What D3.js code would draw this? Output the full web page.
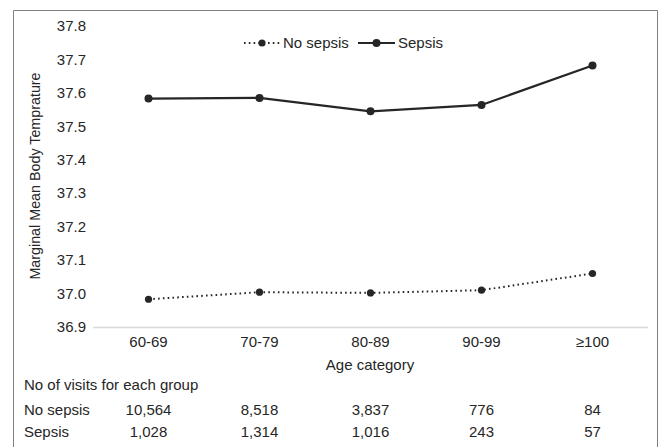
<!DOCTYPE html>
<html><head><meta charset="utf-8">
<script src="https://cdn.jsdelivr.net/npm/d3@7"></script>
<style>body{margin:0;background:#fff}svg{display:block;font-family:"Liberation Sans",Arial,sans-serif}</style>
</head><body><svg id="c" width="659" height="447"></svg>
<script>
const categories = ["60-69","70-79","80-89","90-99","≥100"];
const noSepsis = [36.983, 37.004, 37.002, 37.010, 37.060];
const sepsis = [37.583, 37.585, 37.545, 37.564, 37.682];
const yTicks = [36.9,37.0,37.1,37.2,37.3,37.4,37.5,37.6,37.7,37.8];
const countsNoSepsis = ["10,564","8,518","3,837","776","84"];
const countsSepsis = ["1,028","1,314","1,016","243","57"];

const svg = d3.select("#c");
const col = "#262626";
const fs = 15;
// frame
svg.append("path").attr("d","M13.5,447 V10.5 H657.5 V447").attr("fill","none").attr("stroke","#7f7f7f").attr("stroke-width",1);

const x = d3.scaleBand().domain(categories).range([93,648]);
const y = d3.scaleLinear().domain([36.9,37.8]).range([327,26]);
const cx = d => x(d) + x.bandwidth()/2;

// y tick labels
svg.append("g").selectAll("text").data(yTicks).join("text")
  .attr("x",86).attr("y",d=>y(d)).attr("dy","0.35em").attr("text-anchor","end")
  .attr("font-size",fs).attr("fill",col).text(d=>d.toFixed(1));
// x axis line
svg.append("line").attr("x1",93).attr("x2",648).attr("y1",y(36.9)+0.5).attr("y2",y(36.9)+0.5).attr("stroke","#d9d9d9").attr("stroke-width",1.5);
// x tick labels
svg.append("g").selectAll("text").data(categories).join("text")
  .attr("x",cx).attr("y",347).attr("text-anchor","middle").attr("font-size",fs).attr("fill",col).text(d=>d);
svg.append("text").attr("x",370).attr("y",370).attr("text-anchor","middle").attr("font-size",fs).attr("fill",col).text("Age category");
svg.append("text").attr("transform","translate(40,176) rotate(-90)").attr("text-anchor","middle").attr("font-size",14.3).attr("fill",col).text("Marginal Mean Body Temprature");

const line = d3.line().x((d,i)=>cx(categories[i])).y(d=>y(d));
svg.append("path").datum(sepsis).attr("d",line).attr("fill","none").attr("stroke",col).attr("stroke-width",2.2);
svg.append("path").datum(noSepsis).attr("d",line).attr("fill","none").attr("stroke",col).attr("stroke-width",2).attr("stroke-dasharray","1.6,3.2");
svg.append("g").selectAll("circle").data(sepsis).join("circle").attr("cx",(d,i)=>cx(categories[i])).attr("cy",d=>y(d)).attr("r",4).attr("fill",col);
svg.append("g").selectAll("circle").data(noSepsis).join("circle").attr("cx",(d,i)=>cx(categories[i])).attr("cy",d=>y(d)).attr("r",3.6).attr("fill",col);

// legend
const lg = svg.append("g");
lg.append("line").attr("x1",244).attr("x2",281).attr("y1",43).attr("y2",43).attr("stroke",col).attr("stroke-width",2).attr("stroke-dasharray","1.6,3.2");
lg.append("circle").attr("cx",262).attr("cy",43).attr("r",3.6).attr("fill",col);
lg.append("text").attr("x",283).attr("y",43).attr("dy","0.35em").attr("font-size",fs).attr("fill",col).text("No sepsis");
lg.append("line").attr("x1",358).attr("x2",395).attr("y1",43).attr("y2",43).attr("stroke",col).attr("stroke-width",2.2);
lg.append("circle").attr("cx",376.5).attr("cy",43).attr("r",4).attr("fill",col);
lg.append("text").attr("x",398).attr("y",43).attr("dy","0.35em").attr("font-size",fs).attr("fill",col).text("Sepsis");

// table
svg.append("text").attr("x",24).attr("y",390).attr("font-size",fs).attr("fill",col).text("No of visits for each group");
svg.append("text").attr("x",24).attr("y",415).attr("font-size",fs).attr("fill",col).text("No sepsis");
svg.append("text").attr("x",24).attr("y",437).attr("font-size",fs).attr("fill",col).text("Sepsis");
svg.append("g").selectAll("text").data(countsNoSepsis).join("text").attr("x",(d,i)=>cx(categories[i])).attr("y",415).attr("text-anchor","middle").attr("font-size",fs).attr("fill",col).text(d=>d);
svg.append("g").selectAll("text").data(countsSepsis).join("text").attr("x",(d,i)=>cx(categories[i])).attr("y",437).attr("text-anchor","middle").attr("font-size",fs).attr("fill",col).text(d=>d);
</script></body></html>
